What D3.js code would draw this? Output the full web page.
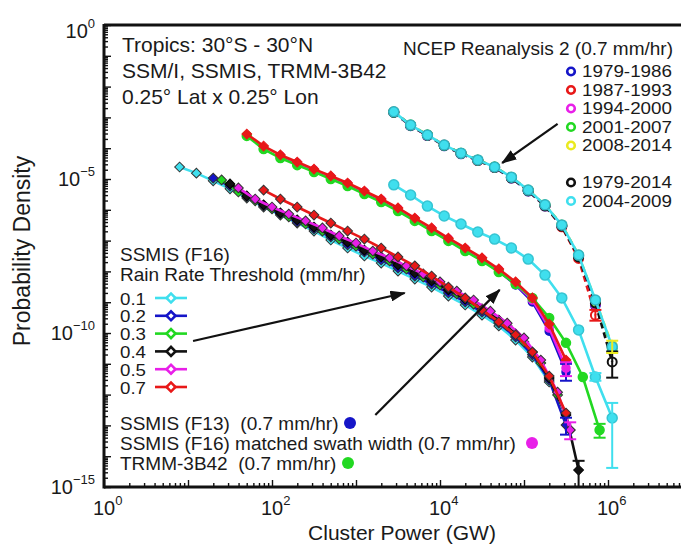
<!DOCTYPE html>
<html>
<head>
<meta charset="utf-8">
<script src="https://cdn.jsdelivr.net/npm/d3@7"></script>
<style>
body { margin: 0; background: #fff; }
svg text { font-family: "Liberation Sans", Arial, sans-serif; fill: #1a1a1a; white-space: pre; }
</style>
</head>
<body>
<div id="chart"></div>
<script>
// all values are log10: [cluster power (GW), probability density]

// SSMIS (F16), rain rate thresholds
var thr01 = [[0.9,-4.61],[1.1,-4.81],[1.3,-5.06],[1.5,-5.32],[1.7,-5.62],[1.9,-5.91],[2.1,-6.17],[2.3,-6.43],[2.5,-6.69],[2.7,-6.98],[2.9,-7.24],[3.1,-7.50],[3.3,-7.73],[3.5,-7.99],[3.7,-8.25],[3.9,-8.51],[4.1,-8.80],[4.3,-9.09],[4.5,-9.42],[4.7,-9.77],[4.9,-10.23],[5.1,-10.78],[5.3,-11.59]];
var thr02 = [[1.3,-4.97],[1.5,-5.23],[1.7,-5.58],[1.9,-5.88],[2.1,-6.14],[2.3,-6.40],[2.5,-6.62],[2.7,-6.88],[2.9,-7.14],[3.1,-7.37],[3.3,-7.63],[3.5,-7.89],[3.7,-8.15],[3.9,-8.41],[4.1,-8.70],[4.3,-8.99],[4.5,-9.32],[4.7,-9.68],[4.9,-10.13],[5.1,-10.71],[5.3,-11.53],[5.5,-12.99]];
var thr03 = [[1.4,-5.03],[1.6,-5.42],[1.8,-5.71],[2.0,-5.97],[2.2,-6.23],[2.4,-6.46],[2.6,-6.69],[2.8,-6.95],[3.0,-7.18],[3.2,-7.44],[3.4,-7.66],[3.6,-7.92],[3.8,-8.18],[4.0,-8.44],[4.2,-8.73],[4.4,-9.06],[4.6,-9.38],[4.8,-9.77],[5.0,-10.29],[5.2,-10.97],[5.4,-12.01],[5.55,-13.15]];
var thr04 = [[1.5,-5.16],[1.7,-5.55],[1.9,-5.84],[2.1,-6.10],[2.3,-6.33],[2.5,-6.56],[2.7,-6.82],[2.9,-7.05],[3.1,-7.31],[3.3,-7.53],[3.5,-7.79],[3.7,-8.05],[3.9,-8.31],[4.1,-8.60],[4.3,-8.90],[4.5,-9.22],[4.7,-9.58],[4.9,-10.03],[5.1,-10.62],[5.3,-11.46],[5.5,-12.66],[5.65,-14.45]];
var thr05 = [[1.6,-5.29],[1.8,-5.65],[2.0,-5.91],[2.2,-6.14],[2.4,-6.36],[2.6,-6.59],[2.8,-6.85],[3.0,-7.08],[3.2,-7.34],[3.4,-7.56],[3.6,-7.82],[3.8,-8.08],[4.0,-8.34],[4.2,-8.64],[4.4,-8.93],[4.6,-9.29],[4.8,-9.68],[5.0,-10.16],[5.2,-10.88],[5.4,-11.92],[5.55,-13.15]];
var thr07 = [[1.9,-5.36],[2.1,-5.65],[2.3,-5.91],[2.5,-6.17],[2.7,-6.43],[2.9,-6.69],[3.1,-6.95],[3.3,-7.24],[3.5,-7.53],[3.7,-7.82],[3.9,-8.15],[4.1,-8.51],[4.3,-8.86],[4.5,-9.25],[4.7,-9.64],[4.9,-10.06],[5.1,-10.62],[5.3,-11.40],[5.5,-12.60]];

// 0.7 mm/hr products (upper bundle)
var upRed = [[1.7,-3.54],[1.9,-3.93],[2.1,-4.22],[2.3,-4.45],[2.5,-4.68],[2.7,-4.90],[2.9,-5.13],[3.1,-5.39],[3.3,-5.65],[3.5,-5.94],[3.7,-6.27],[3.9,-6.59],[4.1,-6.92],[4.3,-7.24],[4.5,-7.56],[4.7,-7.92],[4.9,-8.34],[5.1,-8.86],[5.3,-9.71],[5.5,-10.88]];
var trmm = [[1.7,-3.60],[1.9,-4.03],[2.1,-4.32],[2.3,-4.55],[2.5,-4.77],[2.7,-5.00],[2.9,-5.23],[3.1,-5.49],[3.3,-5.75],[3.5,-6.04],[3.7,-6.36],[3.9,-6.69],[4.1,-7.01],[4.3,-7.34],[4.5,-7.66],[4.7,-8.02],[4.9,-8.41],[5.1,-8.86],[5.3,-9.51],[5.5,-10.32],[5.7,-11.43],[5.9,-13.15]];
var f13 = [[2.1,-4.29],[2.3,-4.51],[2.5,-4.74],[2.7,-4.97],[2.9,-5.19],[3.1,-5.45],[3.3,-5.71],[3.5,-6.01],[3.7,-6.33],[3.9,-6.66],[4.1,-6.98],[4.3,-7.31],[4.5,-7.63],[4.7,-7.99],[4.9,-8.44],[5.1,-8.99],[5.3,-9.94],[5.5,-11.27]];
var f16Matched = [[2.1,-4.25],[2.3,-4.48],[2.5,-4.71],[2.7,-4.94],[2.9,-5.16],[3.1,-5.42],[3.3,-5.68],[3.5,-5.97],[3.7,-6.30],[3.9,-6.62],[4.1,-6.95],[4.3,-7.27],[4.5,-7.60],[4.7,-7.95],[4.9,-8.41],[5.1,-8.93],[5.3,-9.84],[5.5,-11.14]];

// NCEP Reanalysis 2
var ncepPower = [3.45,3.65,3.85,4.05,4.25,4.45,4.65,4.85,5.05,5.25,5.45,5.65,5.85,6.05];
var ncep7986 = [-2.84,-3.27,-3.59,-3.92,-4.18,-4.40,-4.63,-4.97,-5.39,-5.88,-6.53,-7.52,-9.10];
var ncep8793 = [-2.83,-3.26,-3.58,-3.91,-4.17,-4.40,-4.62,-4.96,-5.38,-5.87,-6.55,-7.58,-9.42];
var ncep9400 = [-2.82,-3.26,-3.58,-3.90,-4.17,-4.39,-4.62,-4.95,-5.37,-5.86,-6.51,-7.50,-9.05];
var ncep0107 = [-2.83,-3.25,-3.57,-3.91,-4.16,-4.39,-4.61,-4.95,-5.37,-5.85,-6.50,-7.49,-8.98,-10.50];
var ncep0814 = [-2.82,-3.25,-3.57,-3.90,-4.16,-4.38,-4.61,-4.94,-5.36,-5.84,-6.49,-7.47,-8.95,-10.40];
var ncep7914 = [-2.83,-3.26,-3.58,-3.91,-4.17,-4.39,-4.62,-4.96,-5.38,-5.87,-6.53,-7.53,-9.03,-10.94];
var ncep0409 = [-2.82,-3.25,-3.57,-3.90,-4.16,-4.38,-4.61,-4.94,-5.36,-5.84,-6.49,-7.47,-8.93,-10.45];
var cyanLow = [-5.19,-5.52,-5.88,-6.20,-6.46,-6.72,-6.95,-7.24,-7.60,-8.12,-8.86,-9.90,-11.43,-12.76];

// error bars: [power, low, high, colour]
var errBars = [[5.65,-15.3,-14.15,"black"],[5.5,-13.3,-12.75,"blue"],[5.55,-13.45,-12.9,"magenta"],
  [5.5,-11.55,-11.0,"blue"],[5.5,-11.4,-10.95,"magenta"],[5.9,-13.4,-12.95,"green"],
  [6.05,-14.38,-12.27,"cyan"],[5.85,-11.55,-11.3,"cyan"],[6.05,-11.45,-10.6,"black"],
  [6.05,-10.65,-10.25,"yellow"],[5.85,-9.6,-9.25,"red"]];

// arrows: [from power, from density, to power, to density]
var arrows = [[5.40,-3.21,4.74,-4.48],[1.06,-10.26,3.58,-8.70],[3.23,-12.66,4.71,-8.60]];

var thresholdLabels = ["0.1","0.2","0.3","0.4","0.5","0.7"];
var ncepLabels = ["1979-1986","1987-1993","1994-2000","2001-2007","2008-2014","1979-2014","2004-2009"];
var xTickExp = [0, 2, 4, 6];
var yTickExp = [0, -5, -10, -15];

var col = { cyan: "#3fdfee", blue: "#1515c8", green: "#22d822", black: "#111111",
  magenta: "#e81fe8", red: "#e81818", yellow: "#eaea20" };

var W = 681, H = 546;
var x = d3.scaleLog().domain([1, 1e7]).range([104, 692]);
var y = d3.scaleLog().domain([1e-15, 1]).range([487, 25]);

var svg = d3.select("#chart").append("svg").attr("width", W).attr("height", H);
var defs = svg.append("defs");
defs.append("clipPath").attr("id", "plotclip").append("rect")
  .attr("x", 104).attr("y", 25).attr("width", 588).attr("height", 462);
defs.append("marker").attr("id", "arrow")
  .attr("viewBox", "0 0 14 10").attr("refX", 13).attr("refY", 5)
  .attr("markerWidth", 7).attr("markerHeight", 5).attr("orient", "auto")
  .append("path").attr("d", "M0,0 L14,5 L0,10 z").attr("fill", "#111");

var plot = svg.append("g").attr("clip-path", "url(#plotclip)");

var line = d3.line()
  .x(function(d){ return x(Math.pow(10, d[0])); })
  .y(function(d){ return y(Math.pow(10, d[1])); });

var diamond = d3.symbol().type(d3.symbolSquare).size(48);

function drawSeries(data, color, opts) {
  opts = opts || {};
  var g = plot.append("g");
  g.append("path").datum(data).attr("d", line)
    .attr("fill", "none").attr("stroke", color)
    .attr("stroke-width", opts.width || 2.6)
    .attr("stroke-dasharray", opts.dash || null);
  if (opts.marker === "diamond") {
    g.selectAll("path.m").data(data).enter().append("path").attr("class", "m")
      .attr("d", diamond)
      .attr("transform", function(d){ return "translate(" + x(Math.pow(10, d[0])) + "," + y(Math.pow(10, d[1])) + ") rotate(45)"; })
      .attr("fill", color).attr("stroke", opts.edge || color).attr("stroke-width", 1);
  } else if (opts.marker === "circle") {
    g.selectAll("circle").data(data).enter().append("circle")
      .attr("cx", function(d){ return x(Math.pow(10, d[0])); })
      .attr("cy", function(d){ return y(Math.pow(10, d[1])); })
      .attr("r", opts.r || 4.5)
      .attr("fill", opts.fill || color).attr("stroke", opts.edge || color)
      .attr("stroke-width", opts.sw || 1.5);
  }
}

function pairs(xs, ys) { return ys.map(function(v, i){ return [xs[i], v]; }); }

// NCEP periods (dashed, underneath)
drawSeries(pairs(ncepPower, ncep7986), col.blue, {dash: "6,4", marker: "circle", fill: "none", r: 4.5, sw: 2});
drawSeries(pairs(ncepPower, ncep8793), col.red, {dash: "6,4", marker: "circle", fill: "none", r: 4.5, sw: 2});
drawSeries(pairs(ncepPower, ncep9400), col.magenta, {dash: "6,4", marker: "circle", fill: "none", r: 4.5, sw: 2});
drawSeries(pairs(ncepPower, ncep0107), col.green, {dash: "6,4", marker: "circle", fill: "none", r: 4.5, sw: 2});
drawSeries(pairs(ncepPower, ncep0814), col.yellow, {dash: "6,4", marker: "circle", fill: "none", r: 4.5, sw: 2});
drawSeries(pairs(ncepPower, ncep7914), col.black, {dash: "6,4", marker: "circle", fill: "none", r: 4.5, sw: 2});
drawSeries(pairs(ncepPower, ncep0409), col.cyan, {marker: "circle", r: 5, edge: "#2fb4c4"});
drawSeries(pairs(ncepPower, cyanLow), col.cyan, {marker: "circle", r: 5, edge: "#35c4d2"});

// upper bundle
drawSeries(f13, col.blue, {marker: "circle", r: 4});
drawSeries(f16Matched, col.magenta, {marker: "circle", r: 4});
drawSeries(trmm, col.green, {marker: "circle", r: 4.5});
drawSeries(upRed, col.red, {marker: "diamond"});

// lower bundle (thresholds)
var thrSeries = [thr01, thr02, thr03, thr04, thr05, thr07];
var thrColors = [col.cyan, col.blue, col.green, col.black, col.magenta, col.red];
thrSeries.forEach(function(s, i){
  drawSeries(s, thrColors[i], {marker: "diamond", edge: i === 3 ? "#000" : "#333"});
});

// error bars
var eb = plot.append("g");
errBars.forEach(function(e){
  var px = x(Math.pow(10, e[0])), y1 = y(Math.pow(10, e[1])), y2 = y(Math.pow(10, e[2]));
  var c = col[e[3]];
  eb.append("line").attr("x1", px).attr("x2", px).attr("y1", y1).attr("y2", y2)
    .attr("stroke", c).attr("stroke-width", 2);
  [y1, y2].forEach(function(yy){
    eb.append("line").attr("x1", px - 6).attr("x2", px + 6).attr("y1", yy).attr("y2", yy)
      .attr("stroke", c).attr("stroke-width", 2);
  });
});

// axes
var xMajor = [], xMinor = [];
for (var e = 0; e < 7; e++) {
  xMajor.push(Math.pow(10, e));
  for (var m = 2; m < 10; m++) xMinor.push(m * Math.pow(10, e));
}
xMajor.push(1e7);
var yMajor = [], yMinor = [];
for (var k = -15; k < 0; k++) {
  yMajor.push(Math.pow(10, k));
  for (var n = 2; n < 10; n++) yMinor.push(n * Math.pow(10, k));
}
yMajor.push(1);

function styleAxis(g) {
  g.select(".domain").remove();
  g.selectAll(".tick line").attr("stroke", "#111").attr("stroke-width", 1.4);
}
svg.append("g").attr("transform", "translate(0,487)")
  .call(d3.axisTop(x).tickValues(xMinor).tickSize(4).tickFormat("")).call(styleAxis);
svg.append("g").attr("transform", "translate(0,487)")
  .call(d3.axisTop(x).tickValues(xMajor).tickSize(7).tickFormat("")).call(styleAxis);
svg.append("g").attr("transform", "translate(104,0)")
  .call(d3.axisRight(y).tickValues(yMinor).tickSize(4).tickFormat("")).call(styleAxis);
svg.append("g").attr("transform", "translate(104,0)")
  .call(d3.axisRight(y).tickValues(yMajor).tickSize(7).tickFormat("")).call(styleAxis);

// frame
svg.append("line").attr("x1", 104).attr("x2", W).attr("y1", 25).attr("y2", 25).attr("stroke", "#111").attr("stroke-width", 3);
svg.append("line").attr("x1", 104).attr("x2", W).attr("y1", 487).attr("y2", 487).attr("stroke", "#111").attr("stroke-width", 3);
svg.append("line").attr("x1", 104).attr("x2", 104).attr("y1", 24).attr("y2", 488.5).attr("stroke", "#111").attr("stroke-width", 3);

// tick labels
xTickExp.forEach(function(p){
  var t = svg.append("text").attr("x", x(Math.pow(10, p)) - 11).attr("y", 515).attr("font-size", 20);
  t.append("tspan").text("10");
  t.append("tspan").attr("dy", -10).attr("font-size", 13).text(String(p));
});
yTickExp.forEach(function(p){
  var t = svg.append("text").attr("x", 95).attr("y", y(Math.pow(10, p)) + (p === 0 ? 13 : 7))
    .attr("font-size", 20).attr("text-anchor", "end");
  t.append("tspan").text("10");
  t.append("tspan").attr("dy", -10).attr("font-size", 13).text(p === 0 ? "0" : "\u2212" + Math.abs(p));
});

// axis titles
svg.append("text").attr("x", 402).attr("y", 540).attr("font-size", 21)
  .attr("text-anchor", "middle").text("Cluster Power (GW)");
svg.append("text").attr("transform", "translate(30,251) rotate(-90)").attr("font-size", 23)
  .attr("text-anchor", "middle").text("Probability Density");

// top-left annotation
["Tropics: 30\u00B0S - 30\u00B0N", "SSM/I, SSMIS, TRMM-3B42", "0.25\u00B0 Lat x 0.25\u00B0 Lon"]
  .forEach(function(s, i){
    svg.append("text").attr("x", 122).attr("y", 52 + i * 26).attr("font-size", 21).text(s);
  });

// NCEP legend
svg.append("text").attr("x", 673).attr("y", 55).attr("font-size", 19)
  .attr("text-anchor", "end").text("NCEP Reanalysis 2 (0.7 mm/hr)");
var ncepColors = [col.blue, col.red, col.magenta, col.green, col.yellow, col.black, col.cyan];
var ncepRows = [77, 95.5, 114, 132.5, 151, 188, 206.5];
ncepLabels.forEach(function(s, i){
  svg.append("circle").attr("cx", 571).attr("cy", ncepRows[i] - 5.5).attr("r", 3.8)
    .attr("fill", "none").attr("stroke", ncepColors[i]).attr("stroke-width", 2.6);
  svg.append("text").attr("x", 582).attr("y", ncepRows[i]).attr("font-size", 16)
    .attr("textLength", 90).attr("lengthAdjust", "spacingAndGlyphs").text(s);
});

// threshold legend
svg.append("text").attr("x", 120).attr("y", 261).attr("font-size", 19).text("SSMIS (F16)");
svg.append("text").attr("x", 120).attr("y", 281).attr("font-size", 19).text("Rain Rate Threshold (mm/hr)");
thresholdLabels.forEach(function(s, i){
  var by = 304.5 + i * 17.8, cy = by - 6.5;
  svg.append("text").attr("x", 120).attr("y", by).attr("font-size", 16)
    .attr("textLength", 26).attr("lengthAdjust", "spacingAndGlyphs").text(s);
  svg.append("line").attr("x1", 155).attr("x2", 187).attr("y1", cy).attr("y2", cy)
    .attr("stroke", thrColors[i]).attr("stroke-width", 2.6);
  svg.append("path").attr("d", d3.symbol().type(d3.symbolSquare).size(40))
    .attr("transform", "translate(171," + cy + ") rotate(45)")
    .attr("fill", "#fff").attr("stroke", thrColors[i]).attr("stroke-width", 2.6);
});

// product legend
var prodLabels = ["SSMIS (F13)  (0.7 mm/hr)", "SSMIS (F16) matched swath width (0.7 mm/hr)", "TRMM-3B42  (0.7 mm/hr)"];
var prodColors = [col.blue, col.magenta, col.green];
var prodDotX = [350, 532, 348];
prodLabels.forEach(function(s, i){
  var by = 430 + i * 20;
  svg.append("text").attr("x", 120).attr("y", by).attr("font-size", 19).text(s);
  svg.append("circle").attr("cx", prodDotX[i]).attr("cy", by - 7).attr("r", 6).attr("fill", prodColors[i]);
});

// arrows
arrows.forEach(function(a){
  svg.append("line")
    .attr("x1", x(Math.pow(10, a[0]))).attr("y1", y(Math.pow(10, a[1])))
    .attr("x2", x(Math.pow(10, a[2]))).attr("y2", y(Math.pow(10, a[3])))
    .attr("stroke", "#111").attr("stroke-width", 2.2).attr("marker-end", "url(#arrow)");
});
</script>
</body>
</html>
